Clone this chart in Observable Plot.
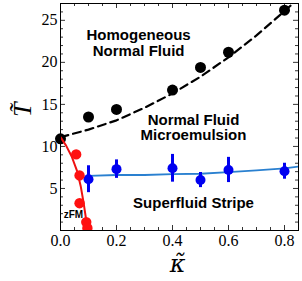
<!DOCTYPE html>
<html><head><meta charset="utf-8">
<script src="https://cdn.jsdelivr.net/npm/d3@7"></script>
<script src="https://cdn.jsdelivr.net/npm/@observablehq/plot@0.6"></script>
<style>body{margin:0;background:#fff} svg text{font-family:'Liberation Serif','Times New Roman',serif} svg g.sanslab text{font-family:'Liberation Sans',Arial,sans-serif} svg g.kap text{font-family:'DejaVu Serif',serif}</style>
</head><body><div id="chart"></div>
<script>
// Black points (Homogeneous Normal Fluid boundary)
const blackK = [0, 0.1, 0.2, 0.4, 0.5, 0.6, 0.8];
const blackT = [10.9, 13.5, 14.4, 16.7, 19.4, 21.2, 26.2];
// Dashed fit curve
const dashK = [0, 0.1, 0.2, 0.3, 0.4, 0.5, 0.6, 0.7, 0.8, 0.85];
const dashT = [11.1, 12.0, 13.1, 14.6, 16.3, 18.3, 20.6, 23.2, 26.1, 27.6];
// Blue points with error bars (Superfluid Stripe boundary)
const blueK = [0.1, 0.2, 0.4, 0.5, 0.6, 0.8];
const blueT = [6.1, 7.3, 7.4, 6.0, 7.2, 7.05];
const blueErr = [1.6, 1.1, 1.65, 0.9, 1.5, 0.95];
// Blue fit line
const blueLineK = [0.1, 0.2, 0.3, 0.4, 0.5, 0.6, 0.7, 0.8, 0.85];
const blueLineT = [6.5, 6.6, 6.6, 6.7, 6.75, 6.95, 7.15, 7.4, 7.6];
// Red points (zFM boundary)
const redK = [0.056, 0.068, 0.068, 0.092, 0.096];
const redT = [9.05, 6.55, 3.25, 1.0, 0.3];
// Red line
const redLineK = [0, 0.02, 0.04, 0.06, 0.072, 0.082, 0.092, 0.101];
const redLineT = [11.1, 10.1, 8.8, 7.0, 5.3, 3.4, 1.2, 0];
// Tick values
const xLabels = [0, 0.2, 0.4, 0.6, 0.8];
const xMinor = [0.05,0.1,0.15,0.25,0.3,0.35,0.45,0.5,0.55,0.65,0.7,0.75];
const yLabels = [5, 10, 15, 20, 25];
const yMinor = [1,2,3,4,6,7,8,9,11,12,13,14,16,17,18,19,21,22,23,24,26];
// Region labels
const labelText = ["Homogeneous\nNormal Fluid", "Normal Fluid\nMicroemulsion", "Superfluid Stripe", "zFM"];
const labelK = [0.279, 0.475, 0.475, 0.046];
const labelT = [20.8, 10.77, 2.62, 1.43];
const labelSize = [15, 15, 15, 10];
const labelLead = [1.03, 1.03, 1, 1];

const W = 302, H = 281, mL = 60, mR = 4, mT = 3, mB = 51;
const fw = W - mL - mR, fh = H - mT - mB;

const black = blackK.map((k, i) => ({k, t: blackT[i]}));
const dash = dashK.map((k, i) => ({k, t: dashT[i]}));
const blue = blueK.map((k, i) => ({k, t: blueT[i], lo: blueT[i] - blueErr[i], hi: blueT[i] + blueErr[i]}));
const blueLine = blueLineK.map((k, i) => ({k, t: blueLineT[i]}));
const red = redK.map((k, i) => ({k, t: redT[i]}));
const redLine = redLineK.map((k, i) => ({k, t: redLineT[i]}));
const labels = labelText.map((s, i) => ({s, k: labelK[i], t: labelT[i], size: labelSize[i], lead: labelLead[i]}));

const serif = "'Liberation Serif', 'Times New Roman', serif";
const sans = "'Liberation Sans', Arial, sans-serif";

const chart = Plot.plot({
  width: W, height: H,
  marginLeft: mL, marginRight: mR, marginTop: mT, marginBottom: mB,
  style: {fontFamily: serif, background: "white", overflow: "visible"},
  x: {domain: [0, 0.85]},
  y: {domain: [0, 27]},
  marks: [
    // inward ticks
    Plot.ruleX(xMinor, {insetTop: fh - 3, stroke: "black", strokeWidth: 0.8}),
    Plot.ruleX(xLabels, {insetTop: fh - 5, stroke: "black", strokeWidth: 0.8}),
    Plot.ruleX(xMinor, {insetBottom: fh - 3, stroke: "black", strokeWidth: 0.8}),
    Plot.ruleX(xLabels, {insetBottom: fh - 5, stroke: "black", strokeWidth: 0.8}),
    Plot.ruleY(yMinor, {insetRight: fw - 3, stroke: "black", strokeWidth: 0.8}),
    Plot.ruleY(yLabels, {insetRight: fw - 5, stroke: "black", strokeWidth: 0.8}),
    Plot.ruleY(yMinor, {insetLeft: fw - 3, stroke: "black", strokeWidth: 0.8}),
    Plot.ruleY(yLabels, {insetLeft: fw - 5, stroke: "black", strokeWidth: 0.8}),
    // tick labels
    Plot.axisX(xLabels, {tickSize: 0, tickPadding: 4, tickFormat: d3.format(".1f"), fontSize: 16, fontFamily: serif, label: null}),
    Plot.axisY(yLabels, {tickSize: 0, tickPadding: 3, fontSize: 16, fontFamily: serif, label: null}),
    // curves
    Plot.line(dash, {x: "k", y: "t", stroke: "black", strokeWidth: 2.2, strokeDasharray: "8,5", clip: true}),
    Plot.line(blueLine, {x: "k", y: "t", stroke: "#2a80d0", strokeWidth: 1.8, clip: true}),
    Plot.ruleX(blue, {x: "k", y1: "lo", y2: "hi", stroke: "#0000f0", strokeWidth: 3}),
    Plot.dot(blue, {x: "k", y: "t", r: 5, fill: "#0000f0"}),
    Plot.dot(black, {x: "k", y: "t", r: 5.5, fill: "black"}),
    Plot.line(redLine, {x: "k", y: "t", stroke: "#ee1111", strokeWidth: 2, clip: true}),
    Plot.dot(red, {x: "k", y: "t", r: 5.2, fill: "#ff1010", clip: true}),
    Plot.frame({stroke: "black", strokeWidth: 1}),
    // region labels
    ...labels.map(l => Plot.text([l], {x: "k", y: "t", text: "s", fontSize: l.size, lineHeight: l.lead, fontFamily: sans, fontWeight: "bold", fill: "black", textAnchor: "middle", lineAnchor: "bottom", className: "sanslab"})),
    // axis titles
    Plot.text(["κ\u0303"], {frameAnchor: "bottom", dy: 41, dx: -2, lineAnchor: "bottom", fontSize: 24, fontStyle: "italic", fontFamily: "'DejaVu Serif', serif", fill: "black", className: "kap"}),
    Plot.text(["T\u0303"], {frameAnchor: "left", dx: -38, rotate: -90, fontSize: 26, fontStyle: "italic", fontFamily: serif, fill: "black"})
  ]
});
document.getElementById("chart").appendChild(chart);
</script>
</body></html>
